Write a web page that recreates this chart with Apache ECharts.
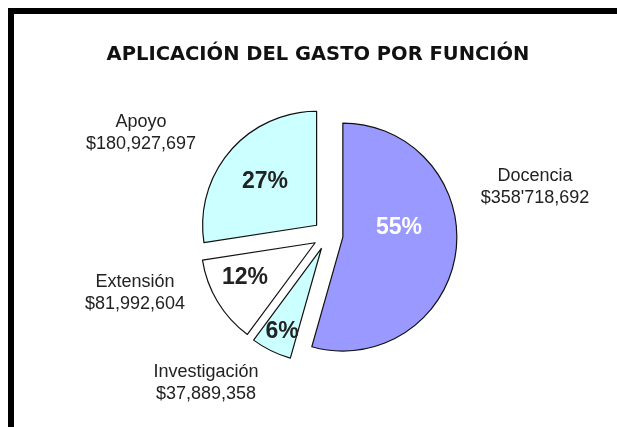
<!DOCTYPE html>
<html lang="es">
<head>
    <meta charset="UTF-8">
    <title>Aplicación del gasto por función</title>
    <script src="https://cdn.jsdelivr.net/npm/echarts@6/dist/echarts.min.js"></script>
    <style>
        html, body { margin: 0; padding: 0; background: #fff; }
    </style>
</head>
<body>
<div id="main" style="width: 617px;height: 427px;"></div>
<script>
    // datos
    var categorias = ['Docencia', 'Investigación', 'Extensión', 'Apoyo'];
    var montos = [358718692, 37889358, 81992604, 180927697];
    var montosTexto = ["$358'718,692", '$37,889,358', '$81,992,604', '$180,927,697'];
    var porcentajes = ['55%', '6%', '12%', '27%'];
    var colores = ['#9999ff', '#ccffff', '#ffffff', '#ccffff'];

    // posiciones de las etiquetas (centro del texto)
    var posPorcentaje = [[399, 228], [282, 332], [245, 278], [265, 182]];
    var posNombre = [[535, 187], [206, 383], [135, 293], [141, 133]];

    var centro = [328, 235];
    var radio = 114;

    var etiquetas = [];
    categorias.forEach(function (c, i) {
        etiquetas.push({
            type: 'text',
            x: posPorcentaje[i][0],
            y: posPorcentaje[i][1],
            silent: true,
            z: 10,
            style: {
                text: porcentajes[i],
                align: 'center',
                verticalAlign: 'middle',
                font: 'bold 23px "Liberation Sans", Arial',
                fill: i === 0 ? '#fff' : '#222'
            }
        });
        etiquetas.push({
            type: 'text',
            x: posNombre[i][0],
            y: posNombre[i][1],
            silent: true,
            z: 10,
            style: {
                text: c + '\n' + montosTexto[i],
                align: 'center',
                verticalAlign: 'middle',
                lineHeight: 21.5,
                font: '18px "Liberation Sans", Arial',
                fill: '#222'
            }
        });
    });

    var myChart = echarts.init(document.getElementById('main'));
    var option = {
        animation: false,
        title: {
            text: 'APLICACIÓN DEL GASTO POR FUNCIÓN',
            left: 313,
            textAlign: 'center',
            top: 40,
            textStyle: {
                fontFamily: 'DejaVu Sans',
                fontWeight: 'bold',
                fontSize: 19.5,
                color: '#111'
            }
        },
        graphic: [{
            type: 'rect',
            shape: {x: 11, y: 11, width: 700, height: 500},
            style: {fill: 'none', stroke: '#000', lineWidth: 6},
            silent: true
        }].concat(etiquetas),
        series: [
            {
                name: 'gasto',
                type: 'pie',
                center: centro,
                radius: radio,
                startAngle: 90,
                selectedMode: 'multiple',
                selectedOffset: 15,
                silent: true,
                itemStyle: {borderColor: '#111', borderWidth: 1.2},
                label: {show: false},
                labelLine: {show: false},
                data: categorias.map(function (c, i) {
                    return {
                        name: c,
                        value: montos[i],
                        selected: true,
                        itemStyle: {color: colores[i]}
                    };
                })
            }
        ]
    };
    myChart.setOption(option);
</script>
</body>
</html>
